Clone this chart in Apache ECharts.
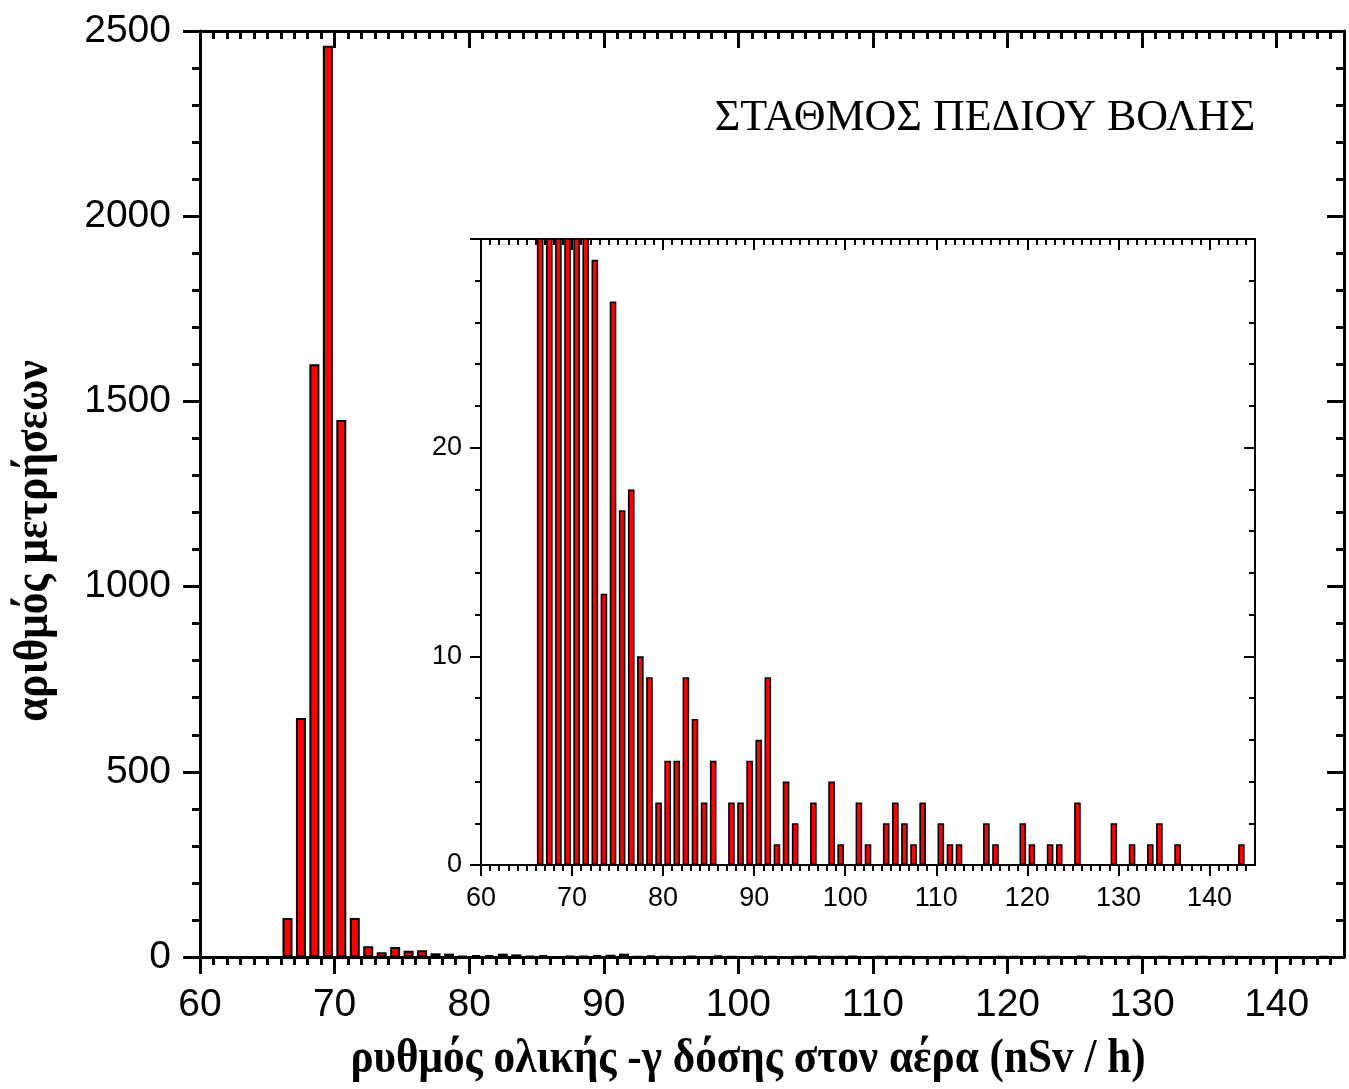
<!DOCTYPE html>
<html>
<head>
<meta charset="utf-8">
<script src="https://cdn.jsdelivr.net/npm/echarts@6/dist/echarts.min.js"></script>
<style>
html, body { margin: 0; padding: 0; background: #fff; }
#main { width: 1349px; height: 1089px; }
</style>
</head>
<body>
<div id="main"></div>
<script>
// κέντρα των κλάσεων (nSv/h), πλάτος κλάσης 1
const binCenters = [
    66.5, 67.5, 68.5, 69.5, 70.5, 71.5, 72.5, 73.5, 74.5, 75.5,
    76.5, 77.5, 78.5, 79.5, 80.5, 81.5, 82.5, 83.5, 84.5, 85.5,
    86.5, 87.5, 88.5, 89.5, 90.5, 91.5, 92.5, 93.5, 94.5, 95.5,
    96.5, 97.5, 98.5, 99.5, 100.5, 101.5, 102.5, 103.5, 104.5, 105.5,
    106.5, 107.5, 108.5, 109.5, 110.5, 111.5, 112.5, 113.5, 114.5, 115.5,
    116.5, 117.5, 118.5, 119.5, 120.5, 121.5, 122.5, 123.5, 124.5, 125.5,
    126.5, 127.5, 128.5, 129.5, 130.5, 131.5, 132.5, 133.5, 134.5, 135.5,
    136.5, 137.5, 138.5, 139.5, 140.5, 141.5, 142.5, 143.5
];
// αριθμός μετρήσεων ανά κλάση
const counts = [
    105, 645, 1600, 2460, 1450, 105, 29, 13, 27, 17,
    18, 10, 9, 3, 5, 5, 9, 7, 3, 5,
    0, 3, 3, 5, 6, 9, 1, 4, 2, 0,
    3, 0, 4, 1, 0, 3, 1, 0, 2, 3,
    2, 1, 3, 0, 2, 1, 1, 0, 0, 2,
    1, 0, 0, 2, 1, 0, 1, 1, 0, 3,
    0, 0, 0, 2, 0, 1, 0, 1, 2, 0,
    1, 0, 0, 0, 0, 0, 0, 1
];
const xTicks = [60, 70, 80, 90, 100, 110, 120, 130, 140];
const mainYTicks = [0, 500, 1000, 1500, 2000, 2500];
const insetYLabels = [0, 10, 20];

const stationName = 'ΣΤΑΘΜΟΣ ΠΕΔΙΟΥ ΒΟΛΗΣ';
const xTitle = 'ρυθμός ολικής -γ δόσης στον αέρα (nSv / h)';
const yTitle = 'αριθμός μετρήσεων';

const barData = binCenters.map((x, i) => [x, counts[i]]);

var chartDom = document.getElementById('main');
var myChart = echarts.init(chartDom);

// άξονας με κύριες και δευτερεύουσες γραμμούλες
const axis = (o) => {
    const w = o.big ? 3 : 2;
    return {
        type: 'value',
        gridIndex: o.grid,
        position: o.position,
        min: o.min,
        max: o.max,
        interval: o.interval,
        axisLine: { show: true, onZero: false, lineStyle: { color: '#000', width: w } },
        axisTick: {
            show: true,
            inside: o.inside,
            length: o.big ? 17 : 11,
            customValues: o.ticks,
            lineStyle: { color: '#000', width: w }
        },
        minorTick: {
            show: true,
            splitNumber: o.minor,
            length: o.big ? 8 : 6,
            lineStyle: { color: '#000', width: w }
        },
        axisLabel: {
            show: !!o.labels,
            customValues: o.labels,
            formatter: (v) => String(v),
            color: '#000',
            fontFamily: 'Liberation Sans',
            fontSize: o.big ? 39 : 27,
            margin: o.margin || 0
        },
        splitLine: { show: false },
        minorSplitLine: { show: false }
    };
};

var option = {
    animation: false,
    backgroundColor: '#fff',
    grid: [
        { left: 200, top: 31, right: 5, bottom: 132, outerBoundsMode: 'none', containLabel: false },
        { left: 481, top: 239, right: 94, bottom: 224, outerBoundsMode: 'none', containLabel: false }
    ],
    xAxis: [
        axis({ grid: 0, position: 'bottom', min: 60, max: 145, interval: 10, minor: 10, big: true, inside: false, ticks: xTicks, labels: xTicks, margin: 29 }),
        axis({ grid: 0, position: 'top', min: 60, max: 145, interval: 10, minor: 10, big: true, inside: true, ticks: xTicks }),
        axis({ grid: 1, position: 'bottom', min: 60, max: 145, interval: 10, minor: 10, big: false, inside: false, ticks: xTicks, labels: xTicks, margin: 20 }),
        axis({ grid: 1, position: 'top', min: 60, max: 145, interval: 10, minor: 10, big: false, inside: true, ticks: xTicks })
    ],
    yAxis: [
        axis({ grid: 0, position: 'left', min: 0, max: 2500, interval: 500, minor: 5, big: true, inside: false, ticks: mainYTicks, labels: mainYTicks, margin: 29 }),
        axis({ grid: 0, position: 'right', min: 0, max: 2500, interval: 500, minor: 5, big: true, inside: true, ticks: mainYTicks }),
        axis({ grid: 1, position: 'left', min: 0, max: 30, interval: 10, minor: 5, big: false, inside: false, labels: insetYLabels, margin: 19 }),
        axis({ grid: 1, position: 'right', min: 0, max: 30, interval: 10, minor: 5, big: false, inside: true })
    ],
    series: [
        {
            name: 'main',
            type: 'bar',
            xAxisIndex: 0,
            yAxisIndex: 0,
            barWidth: 10,
            data: barData,
            itemStyle: { color: '#ff0000', borderColor: '#000', borderWidth: 2 }
        },
        {
            name: 'inset',
            type: 'bar',
            xAxisIndex: 2,
            yAxisIndex: 2,
            barWidth: 6.6,
            clip: true,
            data: barData,
            itemStyle: { color: '#ff0000', borderColor: '#000', borderWidth: 1.6 }
        }
    ],
    graphic: [
        {
            type: 'text',
            x: 985,
            y: 118,
            style: {
                text: stationName,
                font: '44px "Liberation Serif"',
                fill: '#000',
                textAlign: 'center',
                textVerticalAlign: 'middle'
            }
        },
        {
            type: 'text',
            x: 748,
            y: 1059,
            scaleX: 0.96,
            scaleY: 1.08,
            style: {
                text: xTitle,
                font: 'bold 45px "Liberation Serif"',
                fill: '#000',
                textAlign: 'center',
                textVerticalAlign: 'middle'
            }
        },
        {
            type: 'text',
            x: 34,
            y: 541,
            rotation: Math.PI / 2,
            scaleX: 0.96,
            scaleY: 1.08,
            style: {
                text: yTitle,
                font: 'bold 45px "Liberation Serif"',
                fill: '#000',
                textAlign: 'center',
                textVerticalAlign: 'middle'
            }
        }
    ]
};

myChart.setOption(option);
</script>
</body>
</html>
